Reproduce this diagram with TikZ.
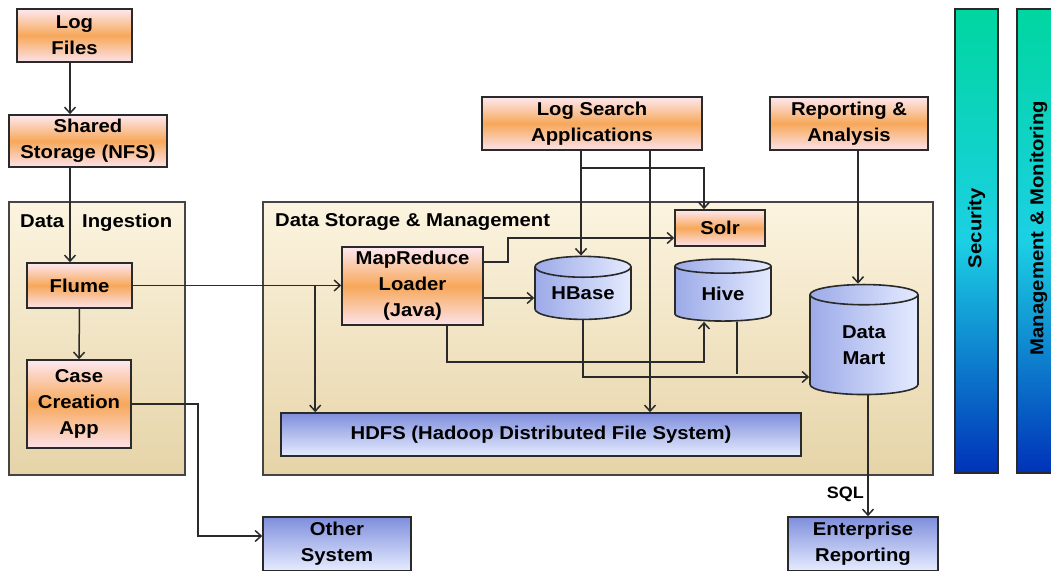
\documentclass[tikz,border=0pt]{standalone}
\usepackage{fontspec}
\setmainfont{Liberation Sans}[FakeStretch=1.09]
\usepackage{tikz}
\usetikzlibrary{arrows.meta,shapes.geometric}
\definecolor{boxink}{HTML}{2A2A2A}
\definecolor{panelink}{HTML}{454545}
\definecolor{orangetop}{HTML}{FDE8F0}
\definecolor{orangemid}{HTML}{F7A85A}
\definecolor{orangebot}{HTML}{FCE2EA}
\definecolor{bluetop}{HTML}{7F8EDC}
\definecolor{bluebot}{HTML}{E6ECFF}
\definecolor{cyldark}{HTML}{9CAAE8}
\definecolor{cyllight}{HTML}{E4EBFF}
\definecolor{paneltop}{HTML}{FCF4E0}
\definecolor{panelbot}{HTML}{E6D4A8}
\definecolor{bartop}{HTML}{00D6A0}
\definecolor{barmid}{HTML}{1CD0E4}
\definecolor{barbot}{HTML}{0032B8}
\tikzset{
  orangebox/.style={draw=boxink, line width=1.6pt, align=center, inner sep=0pt, top color=orangetop, bottom color=orangebot, middle color=orangemid},
  bluebox/.style={draw=boxink, line width=1.6pt, align=center, inner sep=0pt, top color=bluetop, bottom color=bluebot},
  cyl/.style={cylinder, shape border rotate=90, draw=boxink, line width=1.6pt, align=center, inner sep=0pt, left color=cyldark, right color=cyllight},
  panel/.style={draw=panelink, line width=1.6pt, top color=paneltop, bottom color=panelbot},
  bar/.style={draw=boxink, line width=1.6pt, top color=bartop, bottom color=barbot, middle color=barmid},
  paneltitle/.style={anchor=base west, inner sep=0pt},
  flow/.style={-{Straight Barb[length=6pt,width=11pt,line width=1.5pt]}, line width=1.5pt, draw=boxink},
  wire/.style={line width=1.5pt, draw=boxink}
}
\begin{document}
\begin{tikzpicture}[x=1pt,y=1pt,font=\fontsize{18.6}{26}\selectfont\bfseries]
  \path[use as bounding box, fill=white] (0,0) rectangle (1051,570);

  % panels and side bars
  \draw[panel] (9,95) rectangle (185,368);
  \draw[panel] (263,95) rectangle (933,368);
  \node[paneltitle] (ingesttitle) at (20,342) {Data\hspace{18pt}Ingestion};
  \node[paneltitle] (storetitle) at (275,343) {Data Storage \& Management};

  \draw[bar] (955,97) rectangle (998,561);
  \draw[bar] (1017,97) rectangle (1060,561);
  \node[rotate=90] (security) at (976.5,342) {Security};
  \node[rotate=90] (mgmt) at (1038.5,342) {Management \& Monitoring};

  % sources
  \node[orangebox, minimum width=115pt, minimum height=53pt] (logfiles) at (74.5,534.5) {Log\\Files};
  \node[orangebox, minimum width=158pt, minimum height=52pt] (shared) at (88,429) {Shared\\Storage (NFS)};
  \node[orangebox, minimum width=220pt, minimum height=53pt] (logsearch) at (592,446.5) {Log Search\\Applications};
  \node[orangebox, minimum width=158pt, minimum height=53pt] (reporting) at (849,446.5) {Reporting \&\\Analysis};

  % ingestion
  \node[orangebox, minimum width=105pt, minimum height=45pt] (flume) at (79.5,284.5) {Flume};
  \node[orangebox, minimum width=104pt, minimum height=88pt] (caseapp) at (79,166) {Case\\Creation\\App};

  % storage
  \node[orangebox, minimum width=141pt, minimum height=78pt] (mapred) at (412.5,284) {MapReduce\\Loader\\(Java)};
  \node[orangebox, minimum width=90pt, minimum height=36pt] (solr) at (720,342) {Solr};
  \node[cyl, minimum width=96pt, minimum height=63pt, aspect=0.33] (hbase) at (583,276.5) {HBase};
  \node[cyl, minimum width=96pt, minimum height=62pt, aspect=0.33] (hive) at (723,276) {Hive};
  \node[cyl, minimum width=108pt, minimum height=110pt, aspect=0.46] (datamart) at (864,225) {Data\\Mart};
  \node[bluebox, minimum width=520pt, minimum height=43pt] (hdfs) at (541,135.5) {HDFS (Hadoop Distributed File System)};

  % consumers
  \node[bluebox, minimum width=148pt, minimum height=54pt] (other) at (337,26) {Other\\System};
  \node[bluebox, minimum width=150pt, minimum height=54pt] (enterprise) at (863,26) {Enterprise\\Reporting};

  % connectors
  \draw[flow] ([xshift=-4.5pt]logfiles.south) -- ([xshift=-4.5pt]logfiles.south |- shared.north);
  \draw[flow] ([xshift=-18pt]shared.south) -- ([xshift=-18pt]shared.south |- flume.north);
  \draw[flow] (flume.south) -- (caseapp.north);
  \draw[flow] (flume.east) -- (flume.east -| mapred.west);
  \draw[flow] ([xshift=-26pt]mapred.west |- flume.east) -- ([xshift=-26pt]mapred.west |- hdfs.north);
  \draw[flow] (caseapp.east) -- ++(66,0) |- ([yshift=8pt]other.west);

  \draw[flow] ([xshift=-11pt]logsearch.south) -- ([xshift=-11pt]logsearch.south |- hbase.north);
  \draw[flow] ([xshift=-11pt,yshift=-17pt]logsearch.south) -| ([xshift=-16pt]solr.north);
  \draw[flow] ([xshift=58pt]logsearch.south) -- ([xshift=58pt]logsearch.south |- hdfs.north);
  \draw[flow] ([xshift=9pt]reporting.south) -- ([xshift=9pt]reporting.south |- datamart.north);

  \draw[flow] ([yshift=24pt]mapred.east) -- ++(24,0) |- ([yshift=-10pt]solr.west);
  \draw[flow] ([yshift=-12pt]mapred.east) -- ([yshift=-12pt]mapred.east -| hbase.west);
  \draw[flow] ([xshift=34.5pt]mapred.south) -- ++(0,-36) -| ([xshift=-19pt]hive.south);
  \draw[flow] (hbase.south) |- ([yshift=-32pt]datamart.west);
  \draw[wire] ([xshift=14pt]hive.south) -- ++(0,-52);

  \draw[flow] ([xshift=4pt]datamart.south) -- ([xshift=4pt]datamart.south |- enterprise.north)
    node[pos=0.82, left, font=\fontsize{16.5}{20}\selectfont\bfseries] (sql) {SQL};
\end{tikzpicture}
\end{document}
